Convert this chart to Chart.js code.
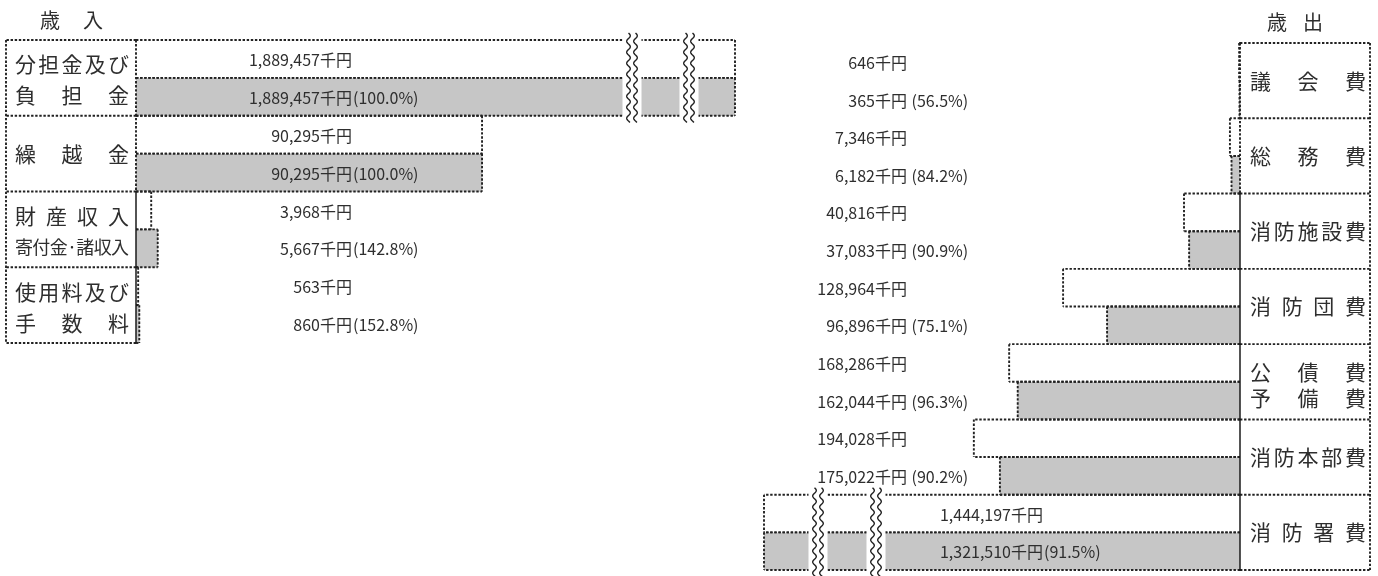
<!DOCTYPE html>
<html lang="ja">
<head>
<meta charset="utf-8">
<script src="https://cdn.jsdelivr.net/npm/chart.js@4.4.1/dist/chart.umd.min.js"></script>
<style>
html,body{margin:0;padding:0;background:#fff;}
#wrap{position:relative;width:1378px;height:576px;overflow:hidden;background:#fff;}
canvas{position:absolute;top:0;}
#cL{left:0;}
#cR{left:700px;}
</style>
</head>
<body>
<div id="wrap">
<canvas id="cL" width="760" height="576"></canvas>
<canvas id="cR" width="678" height="576"></canvas>
</div>
<script>
// ---- data ----
const revenueTitle = '歳入';
const expenditureTitle = '歳出';
const revenueCategories = [['分担金及び','負担金'],['繰越金'],['財産収入','寄付金·諸収入'],['使用料及び','手数料']];
const revenueBudget = [1889457, 90295, 3968, 563];
const revenueActual = [1889457, 90295, 5667, 860];
const revenueRate = ['100.0','100.0','142.8','152.8'];
const expenditureCategories = [['議会費'],['総務費'],['消防施設費'],['消防団費'],['公債費','予備費'],['消防本部費'],['消防署費']];
const expenditureBudget = [646, 7346, 40816, 128964, 168286, 194028, 1444197];
const expenditureActual = [365, 6182, 37083, 96896, 162044, 175022, 1321510];
const expenditureRate = ['56.5','84.2','90.9','75.1','96.3','90.2','91.5'];
const revenueAxisMax = 156300;
const expenditureAxisMax = 347000;

// ---- styles ----
const FONT = '"Noto Sans CJK JP", "Noto Sans", sans-serif';
const INK = '#222222';
const TEXT = '#2e2e2e';
const GRAY = '#c6c6c6';

function setDotted(ctx){ ctx.setLineDash([2.4,1.7]); ctx.lineWidth = 1.9; ctx.strokeStyle = INK; }
function seg(ctx,x1,y1,x2,y2){ ctx.beginPath(); ctx.moveTo(x1,y1); ctx.lineTo(x2,y2); ctx.stroke(); }
function justify(ctx, text, xa, xb, y){
  const ch = Array.from(text);
  const w = ch.map(c => ctx.measureText(c).width);
  const tot = w.reduce((a,b)=>a+b,0);
  const gap = ch.length > 1 ? (xb - xa - tot)/(ch.length - 1) : 0;
  let x = ch.length > 1 ? xa : (xa + xb - tot)/2;
  ctx.textAlign = 'left';
  ch.forEach((c,i)=>{ ctx.fillText(c, x, y); x += w[i] + gap; });
}
function wave(ctx, cx, y0, y1){
  ctx.beginPath();
  let first = true;
  for (let y = y0; y <= y1; y += 0.5){
    const x = cx + 1.8*Math.sin((y - y0)/11*2*Math.PI);
    if (first){ ctx.moveTo(x,y); first = false; } else ctx.lineTo(x,y);
  }
  ctx.stroke();
}
const fmt = v => v.toLocaleString('en-US');

function makePlugin(side){
  return {
    id: 'side' + side.dir,
    afterDatasetsDraw(chart){
      const ctx = chart.ctx;
      const a = chart.chartArea;
      const n = side.categories.length;
      const band = (a.bottom - a.top)/n;
      const isLeft = side.dir === 'left';
      const axisX = isLeft ? a.left : a.right;
      ctx.save();
      // dotted bar outlines
      setDotted(ctx);
      [0,1].forEach(di => {
        chart.getDatasetMeta(di).data.forEach(el => {
          const p = el.getProps(['x','base','y','height'], true);
          const yT = p.y - p.height/2, yB = p.y + p.height/2;
          const endX = isLeft ? Math.min(p.x, a.right) : Math.max(p.x, a.left);
          seg(ctx, p.base, yT, endX, yT);
          seg(ctx, p.base, yB, endX, yB);
          seg(ctx, endX, yT, endX, yB);
        });
      });
      // breaks for values beyond the axis
      side.budget.forEach((v,i) => {
        if (v <= side.max) return;
        const rT = a.top + i*band, rB = rT + band;
        side.breaks(a).forEach(cx => {
          ctx.fillStyle = '#fff';
          ctx.fillRect(cx - 9.5, rT - 2, 19, band + 4);
          ctx.setLineDash([]);
          ctx.lineWidth = 1.4;
          ctx.strokeStyle = INK;
          wave(ctx, cx - 3.5, rT - 7, rB + 7);
          wave(ctx, cx + 3.5, rT - 7, rB + 7);
        });
        setDotted(ctx);
      });
      // label box
      setDotted(ctx);
      const bx0 = side.box(a)[0], bx1 = side.box(a)[1];
      for (let i = 0; i <= n; i++){
        const y = a.top + i*band;
        seg(ctx, axisX, y, isLeft ? bx0 : bx1, y);
      }
      const outerX = isLeft ? bx0 : bx1;
      seg(ctx, outerX, a.top, outerX, a.bottom);
      seg(ctx, axisX, a.top, axisX, a.top + side.solidFrom*band);
      ctx.setLineDash([]);
      ctx.lineWidth = 1.5;
      ctx.strokeStyle = '#1a1a1a';
      seg(ctx, axisX, a.top + side.solidFrom*band, axisX, a.bottom);
      // title
      ctx.fillStyle = TEXT;
      ctx.textBaseline = 'middle';
      ctx.font = '20px ' + FONT;
      justify(ctx, side.title, side.titleX[0], side.titleX[1], side.titleY);
      // category labels
      const inner = side.inner(a);
      side.categories.forEach((lines, i) => {
        const cy = a.top + (i + 0.5)*band;
        lines.forEach((t, k) => {
          const len = Array.from(t).length;
          const size = len > 5 ? 18 : 21;
          ctx.font = size + 'px ' + FONT;
          const y = lines.length === 1 ? cy : cy + side.lineOffset + (k - 0.5)*side.lineGap;
          justify(ctx, t, inner[0], inner[1], y);
        });
      });
      // value labels
      ctx.font = '16px ' + FONT;
      const m0 = chart.getDatasetMeta(0).data, m1 = chart.getDatasetMeta(1).data;
      side.budget.forEach((v,i) => {
        const broken = v > side.max;
        const ax = side.anchor(a, broken);
        const y0 = m0[i].getProps(['y'], true).y, y1 = m1[i].getProps(['y'], true).y;
        ctx.textAlign = 'right';
        ctx.fillText(fmt(v) + '千円', ax, y0 + 1);
        ctx.fillText(fmt(side.actual[i]) + '千円', ax, y1 + 1);
        ctx.textAlign = 'left';
        ctx.fillText((broken ? '' : side.sep) + '(' + side.rates[i] + '%)', ax + 1, y1 + 1);
      });
      ctx.restore();
    }
  };
}

function makeChart(canvasId, side, padding){
  return new Chart(document.getElementById(canvasId), {
    type: 'bar',
    data: {
      labels: side.categories,
      datasets: [
        { label: '予算額', data: side.budget, backgroundColor: '#ffffff', borderWidth: 0, clip: 0,
          barPercentage: 1, categoryPercentage: 1 },
        { label: '決算額', data: side.actual, backgroundColor: GRAY, borderWidth: 0, clip: 0,
          barPercentage: 1, categoryPercentage: 1 }
      ]
    },
    options: {
      indexAxis: 'y',
      responsive: false,
      animation: false,
      devicePixelRatio: 1,
      layout: { padding: padding },
      plugins: { legend: { display: false }, tooltip: { enabled: false } },
      scales: {
        x: { type: 'linear', min: 0, max: side.max, reverse: side.dir === 'right', display: false },
        y: { type: 'category', display: false, offset: true }
      }
    },
    plugins: [makePlugin(side)]
  });
}

const leftSide = {
  dir: 'left', title: revenueTitle, titleX: [40, 103], titleY: 20,
  categories: revenueCategories, budget: revenueBudget, actual: revenueActual, rates: revenueRate,
  max: revenueAxisMax, sep: '', solidFrom: 2, lineGap: 31, lineOffset: 2,
  box: a => [6, a.left], inner: a => [15, a.left - 7],
  anchor: (a, broken) => a.left + 216,
  breaks: a => [a.right - 103, a.right - 46]
};
const rightSide = {
  dir: 'right', title: expenditureTitle, titleX: [567, 623], titleY: 22,
  categories: expenditureCategories, budget: expenditureBudget, actual: expenditureActual, rates: expenditureRate,
  max: expenditureAxisMax, sep: ' ', solidFrom: 2, lineGap: 26, lineOffset: 3,
  box: a => [a.right, 670], inner: a => [a.right + 10, 666],
  anchor: (a, broken) => broken ? a.left + 279 : a.left + 143,
  breaks: a => [a.left + 54, a.left + 112]
};

makeChart('cL', leftSide, { left: 136, right: 25, top: 40, bottom: 233 });
makeChart('cR', rightSide, { left: 64, right: 138, top: 43, bottom: 6 });
</script>
</body>
</html>
